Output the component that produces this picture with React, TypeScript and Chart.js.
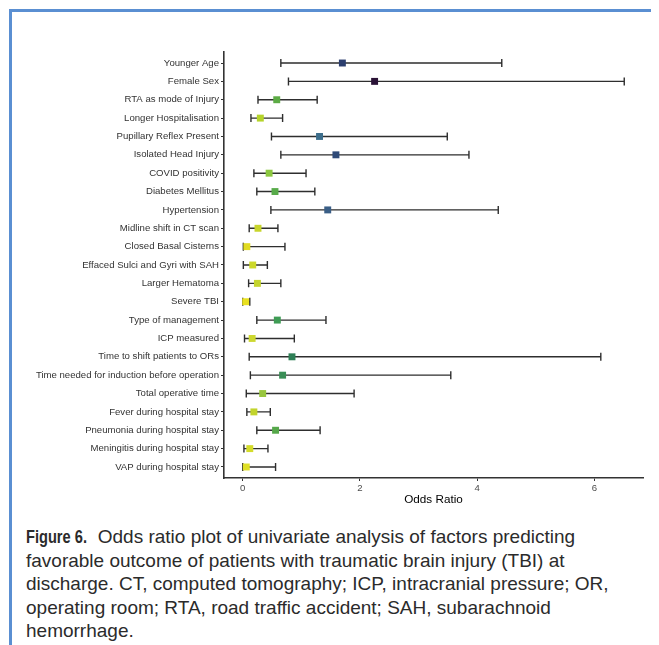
import React, { useEffect, useRef } from "react";
import { Chart, registerables } from "chart.js";

Chart.register(...registerables);

const factorLabels = [
  "Younger Age",
  "Female Sex",
  "RTA as mode of Injury",
  "Longer Hospitalisation",
  "Pupillary Reflex Present",
  "Isolated Head Injury",
  "COVID positivity",
  "Diabetes Mellitus",
  "Hypertension",
  "Midline shift in CT scan",
  "Closed Basal Cisterns",
  "Effaced Sulci and Gyri with SAH",
  "Larger Hematoma",
  "Severe TBI",
  "Type of management",
  "ICP measured",
  "Time to shift patients to ORs",
  "Time needed for induction before operation",
  "Total operative time",
  "Fever during hospital stay",
  "Pneumonia during hospital stay",
  "Meningitis during hospital stay",
  "VAP during hospital stay",
];

const oddsRatio = [1.7, 2.25, 0.58, 0.3, 1.31, 1.59, 0.45, 0.55, 1.45, 0.26, 0.07, 0.17, 0.25, 0.05, 0.59, 0.16, 0.84, 0.68, 0.34, 0.19, 0.56, 0.12, 0.06];
const lowerCI = [0.65, 0.78, 0.26, 0.14, 0.49, 0.65, 0.19, 0.24, 0.48, 0.11, 0.01, 0.01, 0.1, 0.0, 0.24, 0.03, 0.11, 0.13, 0.06, 0.07, 0.24, 0.02, 0.0];
const upperCI = [4.42, 6.51, 1.27, 0.68, 3.49, 3.86, 1.08, 1.23, 4.36, 0.6, 0.72, 0.42, 0.65, 0.12, 1.42, 0.88, 6.11, 3.55, 1.9, 0.47, 1.32, 0.43, 0.56];
const pointColors = [
  "#2c3e6e", "#2a1236", "#5cab45", "#b5d42a", "#3d6e8c", "#2f4a78", "#8cc840", "#58ab4a",
  "#3a5e86", "#c8d52c", "#e2dc22", "#ccd82a", "#c4d42e", "#e8e020", "#3f9c55", "#cdd830",
  "#2e7f56", "#3a8e56", "#98c63e", "#c2d42c", "#56a84a", "#d4dc2a", "#e0e026",
];
const xTickValues = [0, 2, 4, 6];

const errorBarPlugin = {
  id: "errorBars",
  beforeDatasetsDraw(chart: any) {
    const ctx = chart.ctx;
    const xs = chart.scales.x;
    const ys = chart.scales.y;
    ctx.save();
    ctx.strokeStyle = "#2e2e2e";
    ctx.lineWidth = 1.4;
    const cap = 4;
    factorLabels.forEach((_, i) => {
      const y = ys.getPixelForValue(i);
      const x1 = xs.getPixelForValue(lowerCI[i]);
      const x2 = xs.getPixelForValue(upperCI[i]);
      ctx.beginPath();
      ctx.moveTo(x1, y);
      ctx.lineTo(x2, y);
      ctx.moveTo(x1, y - cap);
      ctx.lineTo(x1, y + cap);
      ctx.moveTo(x2, y - cap);
      ctx.lineTo(x2, y + cap);
      ctx.stroke();
    });
    ctx.restore();
  },
};

function ForestChart() {
  const ref = useRef<HTMLCanvasElement>(null);
  useEffect(() => {
    if (!ref.current) return;
    const chart = new Chart(ref.current, {
      type: "scatter",
      data: {
        datasets: [
          {
            data: oddsRatio.map((v, i) => ({ x: v, y: i })),
            pointStyle: "rect",
            pointRadius: 4.9,
            pointHoverRadius: 4.9,
            pointBackgroundColor: pointColors,
            pointBorderColor: pointColors,
            pointBorderWidth: 0,
          },
        ],
      },
      options: {
        animation: false,
        responsive: false,
        maintainAspectRatio: false,
        layout: { padding: { top: 38, right: 9, left: 0, bottom: 0 } },
        plugins: { legend: { display: false }, tooltip: { enabled: false } },
        scales: {
          x: {
            type: "linear",
            min: -0.32,
            max: 6.83,
            afterBuildTicks: (s: any) => {
              s.ticks = xTickValues.map((v) => ({ value: v }));
            },
            afterFit: (s: any) => {
              s.height = 41;
            },
            grid: { display: true, drawOnChartArea: false, drawTicks: true, tickLength: 3, color: "#333333", lineWidth: 1 },
            border: { display: true, color: "#333333", width: 1.6 },
            ticks: {
              padding: 2,
              color: "#4d4d4d",
              font: { family: "'Liberation Sans', Arial, sans-serif", size: 9.6 },
              maxRotation: 0,
              callback: (v: any) => String(v),
            },
            title: {
              display: true,
              text: "Odds Ratio",
              color: "#000000",
              padding: { top: 0, bottom: 12 },
              font: { family: "'Liberation Sans', Arial, sans-serif", size: 11.7 },
            },
          },
          y: {
            type: "linear",
            reverse: true,
            min: -0.6,
            max: 22.6,
            afterBuildTicks: (s: any) => {
              s.ticks = factorLabels.map((_, i) => ({ value: i }));
            },
            afterFit: (s: any) => {
              s.width = 212;
            },
            grid: { display: true, drawOnChartArea: false, drawTicks: true, tickLength: 3, color: "#333333", lineWidth: 1 },
            border: { display: true, color: "#333333", width: 1.6 },
            ticks: {
              autoSkip: false,
              padding: 2,
              color: "#333333",
              font: { family: "'Liberation Sans', Arial, sans-serif", size: 9.6 },
              callback: (v: any) => factorLabels[v] ?? "",
            },
          },
        },
      },
      plugins: [errorBarPlugin],
    });
    return () => chart.destroy();
  }, []);
  return (
    <canvas
      ref={ref}
      width={640}
      height={505}
      style={{ position: "absolute", left: 4, top: 6, width: 640, height: 505 }}
    />
  );
}

export default function App() {
  const blue = "#5a8fd2";
  return (
    <div style={{ position: "relative", width: 651, height: 637, background: "#ffffff" }}>
      <div style={{ position: "absolute", left: 1, top: 1, width: 650, height: 3, background: blue }} />
      <div style={{ position: "absolute", left: 1, top: 1, width: 3, height: 636, background: blue }} />
      <ForestChart />
      <div
        style={{
          position: "absolute",
          left: 18,
          top: 517,
          width: 630,
          fontFamily: "'Liberation Sans', Arial, sans-serif",
          fontSize: 19,
          lineHeight: "23.5px",
          color: "#2b2b2b",
          whiteSpace: "nowrap",
        }}
      >
        <span
          style={{
            display: "inline-block",
            fontWeight: "bold",
            transform: "scaleX(0.77)",
            transformOrigin: "left center",
            marginRight: -18,
          }}
        >
          Figure 6.
        </span>
        {"\u00a0 Odds ratio plot of univariate analysis of factors predicting"}
        <br />
        favorable outcome of patients with traumatic brain injury (TBI) at
        <br />
        discharge. CT, computed tomography; ICP, intracranial pressure; OR,
        <br />
        operating room; RTA, road traffic accident; SAH, subarachnoid
        <br />
        hemorrhage.
      </div>
    </div>
  );
}
